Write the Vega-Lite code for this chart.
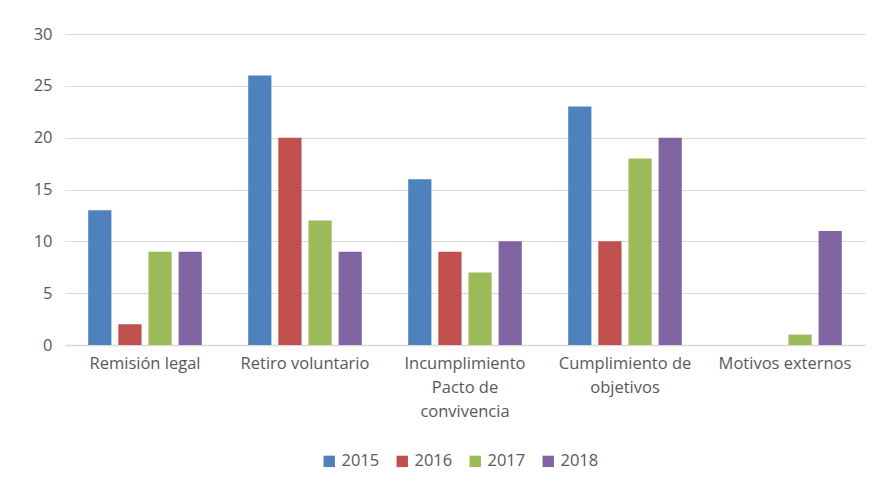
{
  "$schema": "https://vega.github.io/schema/vega-lite/v6.json",
  "autosize": "none",
  "width": 800,
  "height": 311,
  "padding": {"left": 65, "top": 34, "right": 30, "bottom": 149},
  "background": "white",
  "data": {
    "values": [
      {"categoria": "Remisión legal", "anio": "2015", "valor": 13},
      {"categoria": "Remisión legal", "anio": "2016", "valor": 2},
      {"categoria": "Remisión legal", "anio": "2017", "valor": 9},
      {"categoria": "Remisión legal", "anio": "2018", "valor": 9},
      {"categoria": "Retiro voluntario", "anio": "2015", "valor": 26},
      {"categoria": "Retiro voluntario", "anio": "2016", "valor": 20},
      {"categoria": "Retiro voluntario", "anio": "2017", "valor": 12},
      {"categoria": "Retiro voluntario", "anio": "2018", "valor": 9},
      {"categoria": "Incumplimiento Pacto de convivencia", "anio": "2015", "valor": 16},
      {"categoria": "Incumplimiento Pacto de convivencia", "anio": "2016", "valor": 9},
      {"categoria": "Incumplimiento Pacto de convivencia", "anio": "2017", "valor": 7},
      {"categoria": "Incumplimiento Pacto de convivencia", "anio": "2018", "valor": 10},
      {"categoria": "Cumplimiento de objetivos", "anio": "2015", "valor": 23},
      {"categoria": "Cumplimiento de objetivos", "anio": "2016", "valor": 10},
      {"categoria": "Cumplimiento de objetivos", "anio": "2017", "valor": 18},
      {"categoria": "Cumplimiento de objetivos", "anio": "2018", "valor": 20},
      {"categoria": "Motivos externos", "anio": "2017", "valor": 1},
      {"categoria": "Motivos externos", "anio": "2018", "valor": 11}
    ]
  },
  "mark": {"type": "bar"},
  "encoding": {
    "x": {
      "field": "categoria",
      "type": "nominal",
      "sort": null,
      "scale": {"paddingInner": 0.29, "paddingOuter": 0.145},
      "axis": {
        "title": null,
        "labelAngle": 0,
        "ticks": false,
        "domainColor": "#D9D9D9",
        "domainWidth": 1.5,
        "labelPadding": 10,
        "labelFont": "Open Sans",
        "labelFontSize": 16.5,
        "labelColor": "#595959",
        "labelLineHeight": 24,
        "labelBaseline": "top",
        "labelExpr": "datum.value == 'Incumplimiento Pacto de convivencia' ? ['Incumplimiento', 'Pacto de', 'convivencia'] : datum.value == 'Cumplimiento de objetivos' ? ['Cumplimiento de', 'objetivos'] : datum.value"
      }
    },
    "xOffset": {
      "field": "anio",
      "type": "nominal",
      "scale": {"paddingInner": 0.23}
    },
    "y": {
      "field": "valor",
      "type": "quantitative",
      "scale": {"domain": [0, 30]},
      "axis": {
        "title": null,
        "values": [0, 5, 10, 15, 20, 25, 30],
        "domain": false,
        "ticks": false,
        "gridColor": "#D9D9D9",
        "gridWidth": 1.2,
        "labelPadding": 13,
        "labelFont": "Open Sans",
        "labelFontSize": 16.5,
        "labelColor": "#595959"
      }
    },
    "color": {
      "field": "anio",
      "type": "nominal",
      "scale": {
        "domain": ["2015", "2016", "2017", "2018"],
        "range": ["#4F81BD", "#C0504D", "#9BBB59", "#8064A2"]
      },
      "legend": {
        "title": null,
        "orient": "none",
        "legendX": 256,
        "legendY": 419,
        "direction": "horizontal",
        "symbolType": "square",
        "symbolSize": 130,
        "symbolStrokeWidth": 0,
        "labelFont": "Open Sans",
        "labelFontSize": 16.5,
        "labelColor": "#595959",
        "columnPadding": 14,
        "labelOffset": 4
      }
    }
  },
  "config": {
    "view": {"stroke": null}
  }
}
